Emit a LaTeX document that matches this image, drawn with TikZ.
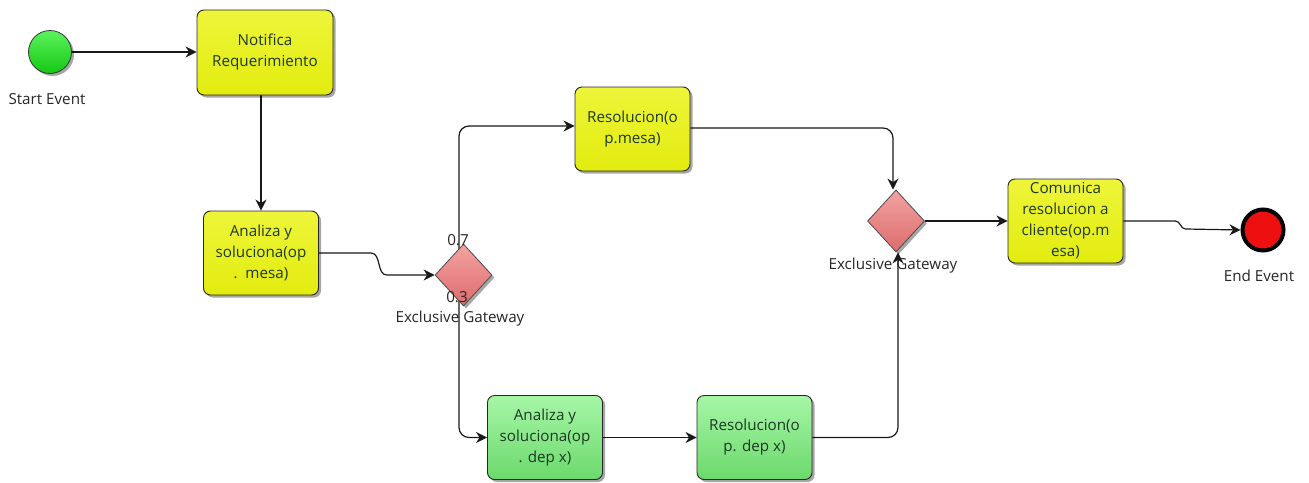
\documentclass[tikz,border=0pt]{standalone}
\usepackage{fontspec}
\setmainfont{Open Sans}
\usetikzlibrary{shapes.geometric,arrows.meta,shadows,backgrounds}

\definecolor{boxtext}{HTML}{1E3826}
\definecolor{lbltext}{HTML}{262626}
\definecolor{yelTop}{HTML}{EEF53A}
\definecolor{yelBot}{HTML}{E2EC0E}
\definecolor{grnTop}{HTML}{A6F6A6}
\definecolor{grnBot}{HTML}{6CD96C}
\definecolor{gwTop}{HTML}{F4A2A2}
\definecolor{gwBot}{HTML}{DC6C6C}
\definecolor{startTop}{HTML}{5CF25C}
\definecolor{startBot}{HTML}{14C814}
\definecolor{endRed}{HTML}{EE1010}

\begin{document}
\begin{tikzpicture}[x=1pt,y=-1pt,
  shadowed/.style={drop shadow={shadow xshift=2.5pt,shadow yshift=-2.5pt,opacity=0.35,fill=black}},
  task/.style={shadowed,draw=black!85,line width=0.9pt,rounded corners=7pt,
    minimum width=115pt,minimum height=84pt,inner sep=1pt,align=center,
    text=boxtext,font=\fontsize{15.2pt}{21pt}\selectfont},
  yeltask/.style={task,top color=yelTop,bottom color=yelBot},
  grntask/.style={task,top color=grnTop,bottom color=grnBot},
  gateway/.style={shadowed,diamond,draw=black!70,line width=0.8pt,inner sep=0pt,
    minimum width=57pt,minimum height=62pt,top color=gwTop,bottom color=gwBot},
  lbl/.style={text=lbltext,font=\fontsize{15.2pt}{18pt}\selectfont,inner sep=0pt},
  flow/.style={draw=black!90,line width=1.2pt,
    -{Stealth[length=11pt,width=11pt,inset=3.5pt]}},
]
\useasboundingbox (0,0) rectangle (1309,482);

% events
\node[circle,shadowed,draw=black!80,line width=0.8pt,minimum size=43pt,inner sep=0pt,
  top color=startTop,bottom color=startBot] (start) at (50,52) {};
\node[circle,draw=black,line width=4pt,minimum size=41pt,inner sep=0pt,outer sep=2pt,
  fill=endRed] (end) at (1263,230) {};
\node[lbl] (startlbl) at (47,99) {Start Event};
\node[lbl] (endlbl) at (1259,276) {End Event};

% tasks
\node[yeltask,minimum width=136pt,minimum height=85pt] (notif) at (265,52.5) {Notifica\\Requerimiento};
\node[yeltask] (an1) at (261,253) {Analiza y\\soluciona(op\\.\enspace mesa)};
\node[yeltask,minimum height=84pt] (res1) at (632.5,129) {Resolucion(o\\p.mesa)};
\node[yeltask] (com) at (1065.5,221) {Comunica\\resolucion a\\cliente(op.m\\esa)};
\node[grntask] (dep1) at (545,437.5) {Analiza y\\soluciona(op\\. dep x)};
\node[grntask] (dep2) at (754.5,437.5) {Resolucion(o\\p. dep x)};

% gateways
\node[gateway] (g1) at (463.5,275) {};
\node[gateway] (g2) at (896,221) {};
\coordinate (g1v) at (459,275);
\node[lbl] (p7) at (458,240) {0.7};
\node[lbl] (p3) at (457,297) {0.3};
\node[lbl] (g1lbl) at (460,319) {Exclusive Gateway};
\node[lbl] (g2lbl) at (893,266) {Exclusive Gateway};

% sequence flows
\begin{pgfonlayer}{background}
\draw[flow] (start.east) -- (start.east -| notif.west);
\draw[flow] (an1.north |- notif.south) -- (an1.north);
\draw[flow] (an1.east) -- ++(52,0) to[out=0,in=180] ++(16,22) -- (g1.west);
\draw[flow,rounded corners=10pt] (g1v) |- ([yshift=3pt]res1.west);
\draw[flow,rounded corners=10pt] (g1v) |- (dep1.west);
\draw[flow] (dep1.east) -- (dep2.west);
\draw[flow,rounded corners=10pt] (res1.east |- 0,128) -| ([xshift=-3pt]g2.north);
\draw[flow,rounded corners=10pt] (dep2.east) -| ([xshift=2pt]g2.south);
\draw[flow] (g2.east) -- (com.west);
\draw[flow] (com.east) -- ++(52,0) to[out=0,in=180] ++(10,8) -- (end.west);
\end{pgfonlayer}
\end{tikzpicture}
\end{document}
